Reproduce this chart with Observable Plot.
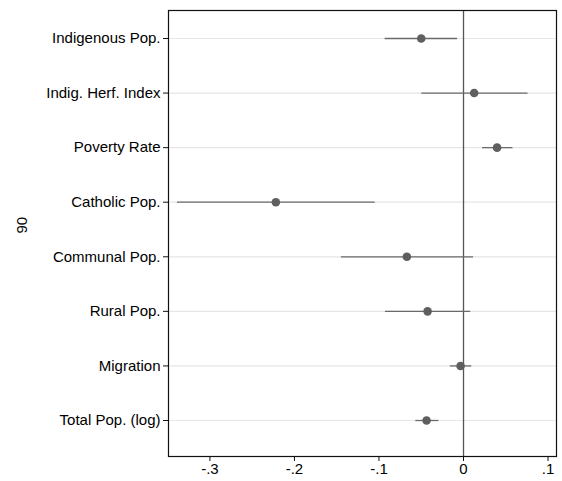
<!DOCTYPE html>
<html><head><meta charset="utf-8">
<script src="https://cdn.jsdelivr.net/npm/d3@7"></script>
<script src="https://cdn.jsdelivr.net/npm/@observablehq/plot@0.6"></script>
<style>body{margin:0;background:#fff}</style>
</head><body><div id="chart"></div>
<script>
const variables = ["Indigenous Pop.","Indig. Herf. Index","Poverty Rate","Catholic Pop.","Communal Pop.","Rural Pop.","Migration","Total Pop. (log)"];
const estimates = [-0.050, 0.0126, 0.0397, -0.222, -0.067, -0.0425, -0.0035, -0.0437];
const lower = [-0.0933, -0.050, 0.0219, -0.339, -0.145, -0.093, -0.0162, -0.057];
const upper = [-0.0077, 0.0757, 0.0579, -0.105, 0.0113, 0.0079, 0.0092, -0.0297];
const xTicks = [-0.3, -0.2, -0.1, 0, 0.1];
const yTitle = "90";

const data = variables.map((v, i) => ({v, est: estimates[i], lo: lower[i], hi: upper[i]}));
const fmt = d => d === 0 ? "0" : d3.format(".1f")(d).replace("0.", ".").replace("\u2212", "-");
const font = "'Liberation Sans Narrow', 'Arial Narrow', 'Liberation Sans', Arial, sans-serif";

const chart = Plot.plot({
  width: 562, height: 481,
  marginLeft: 168, marginRight: 6, marginTop: 10, marginBottom: 25,
  style: {fontFamily: font, fontSize: "15px", color: "#000", background: "#fff"},
  x: {domain: [-0.349, 0.110], label: null},
  y: {type: "point", domain: variables, padding: 0, round: false, insetTop: 28, insetBottom: 36, label: null},
  marks: [
    Plot.ruleY(variables, {stroke: "#e6e6e6", strokeWidth: 1.2}),
    Plot.ruleX([0], {stroke: "#555", strokeWidth: 1.3}),
    Plot.link(data, {x1: "lo", x2: "hi", y1: "v", y2: "v", stroke: "#6a6a6a", strokeWidth: 1.3}),
    Plot.dot(data, {x: "est", y: "v", r: 4.3, fill: "#5f5f5f", stroke: "none"}),
    Plot.frame({stroke: "#111", strokeWidth: 1.2}),
    Plot.axisX({ticks: xTicks, tickFormat: fmt, tickSize: 5, tickPadding: 2, label: null, stroke: "#111", fontSize: 15}),
    Plot.axisY({tickSize: 5, tickPadding: 3, label: null, stroke: "#111", fontSize: 15}),
    Plot.text([yTitle], {frameAnchor: "left", dx: -146, rotate: -90, text: d => d, fontSize: 15})
  ]
});
document.getElementById("chart").appendChild(chart);
</script></body></html>
